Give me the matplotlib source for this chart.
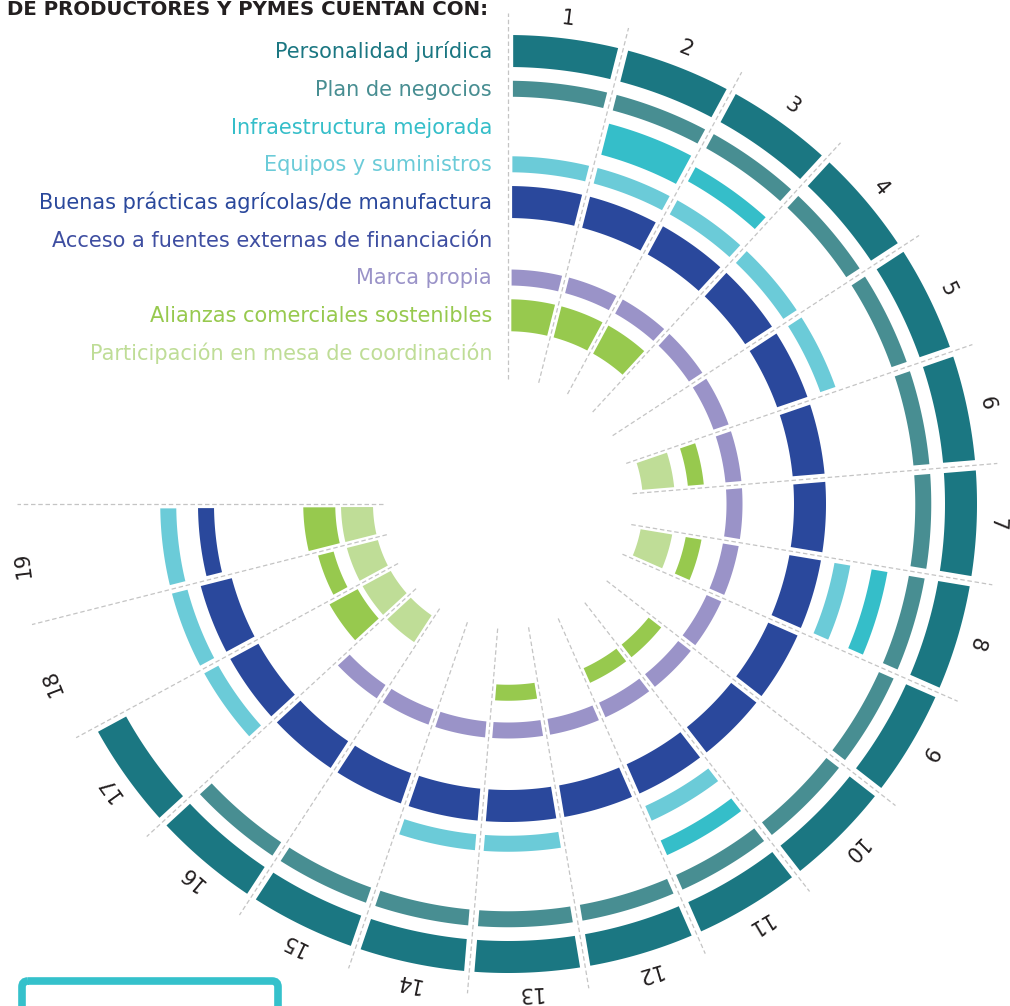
import numpy as np
import matplotlib
matplotlib.use("Agg")
import matplotlib.pyplot as plt
from matplotlib.patches import FancyBboxPatch

# ---------------- data ----------------
ring_names = [
    "Personalidad jurídica",
    "Plan de negocios",
    "Infraestructura mejorada",
    "Equipos y suministros",
    "Buenas prácticas agrícolas/de manufactura",
    "Acceso a fuentes externas de financiación",
    "Marca propia",
    "Alianzas comerciales sostenibles",
    "Participación en mesa de coordinación",
]
ring_colors = ["#1B7782", "#488E92", "#35BEC9", "#6BCBD8", "#2A489C",
               "#3E4EA1", "#9A93C8", "#97C94E", "#BFDD97"]
sector_labels = ["1", "2", "3", "4", "5", "6", "7", "8", "9", "10",
                 "11", "12", "13", "14", "15", "16", "17", "18", "19"]

# 1 = full bar, 0.5 = half-width bar, 0 = none (one value per sector 1..19)
personalidad  = [1, 1, 1, 1, 1, 1, 1, 1, 1, 1, 1, 1, 1, 1, 1, 1, 1, 0, 0]
plan_negocios = [.5, .5, .5, .5, .5, .5, .5, .5, .5, .5, .5, .5, .5, .5, .5, .5, 0, 0, 0]
infraestr     = [0, 1, .5, 0, 0, 0, 0, .5, 0, 0, .5, 0, 0, 0, 0, 0, 0, 0, 0]
equipos       = [.5, .5, .5, .5, .5, 0, 0, .5, 0, 0, .5, 0, .5, .5, 0, 0, .5, .5, .5]
buenas_pract  = [1, 1, 1, 1, 1, 1, 1, 1, 1, 1, 1, 1, 1, 1, 1, 1, 1, 1, .5]
acceso_fin    = [0, 0, 0, 0, 0, 0, 0, 0, 0, 0, 0, 0, 0, 0, 0, 0, 0, 0, 0]
marca_propia  = [.5, .5, .5, .5, .5, .5, .5, .5, .5, .5, .5, .5, .5, .5, .5, .5, 0, 0, 0]
alianzas      = [1, 1, 1, 0, 0, .5, 0, .5, 0, .5, .5, 0, .5, 0, 0, 0, 1, .5, 1]
participacion = [0, 0, 0, 0, 0, 1, 0, 1, 0, 0, 0, 0, 0, 0, 0, 1, 1, 1, 1]

ring_values = [personalidad, plan_negocios, infraestr, equipos, buenas_pract,
               acceso_fin, marca_propia, alianzas, participacion]

title = "DE PRODUCTORES Y PYMES CUENTAN CON:"

# ---------------- layout ----------------
W, H, DPI = 1010, 1006, 100
CX, CY = 508, 504          # centre of the radial chart (px)
R_AX = 510                 # polar axes radius (px) -> 1 data unit = 1 px
R_FIRST = 453              # centre radius of outermost ring
R_STEP = 37.75             # distance between ring centres
BAR_W = 32                 # full bar thickness
R_LINE0, R_LINE1 = 125, 491
R_LABEL = 489
SPAN = 1.5 * np.pi         # 270 degrees

fig = plt.figure(figsize=(W / DPI, H / DPI), dpi=DPI)
fig.patch.set_facecolor("white")

ax = fig.add_axes([(CX - R_AX) / W, (H - CY - R_AX) / H, 2 * R_AX / W, 2 * R_AX / H],
                  projection="polar")
ax.set_theta_zero_location("N")
ax.set_theta_direction(-1)
ax.set_ylim(0, R_AX)
ax.axis("off")

n = len(sector_labels)
wid = SPAN / n

# dashed separators
for b in range(n + 1):
    t = b * wid
    ax.plot([t, t], [R_LINE0, R_LINE1], color="#C4C4C4", lw=0.9,
            dashes=(3.6, 2.2), solid_capstyle="butt", zorder=1)

# bars
for i, (vals, col) in enumerate(zip(ring_values, ring_colors)):
    rc = R_FIRST - R_STEP * i
    hg = 2.0 + 0.007 * rc
    for k, v in enumerate(vals):
        if v == 0:
            continue
        th = BAR_W * v
        ri, ro = rc - th / 2, rc + th / 2
        a0, a1 = k * wid, (k + 1) * wid
        to = np.linspace(a0 + np.arcsin(hg / ro), a1 - np.arcsin(hg / ro), 80)
        ti = np.linspace(a1 - np.arcsin(hg / ri), a0 + np.arcsin(hg / ri), 80)
        ax.fill(np.concatenate([to, ti]),
                np.concatenate([np.full(to.size, ro), np.full(ti.size, ri)]),
                color=col, lw=0, zorder=2)

# sector numbers
for k, s in enumerate(sector_labels):
    mid = (k + 0.5) * wid
    ax.text(mid, R_LABEL, s, rotation=-np.degrees(mid), rotation_mode="anchor",
            ha="center", va="center", fontsize=15, color="#231F20")

# overlay axes in pixel coordinates
ov = fig.add_axes([0, 0, 1, 1])
ov.set_xlim(0, W)
ov.set_ylim(H, 0)
ov.axis("off")

for i, (name, col) in enumerate(zip(ring_names, ring_colors)):
    y = CY - (R_FIRST - R_STEP * i)
    ov.text(CX - 16, y + 7, name, ha="right", va="baseline", fontsize=15, color=col)

ov.text(488, 15, title, ha="right", va="baseline", fontsize=14.2,
        fontweight="bold", color="#231F20")

box = FancyBboxPatch((22, 981), 256, 70, boxstyle="round,pad=0,rounding_size=6",
                     facecolor="none", edgecolor="#35C1CB", lw=5.5)
ov.add_patch(box)

fig.savefig("out.png", dpi=DPI, facecolor="white")
